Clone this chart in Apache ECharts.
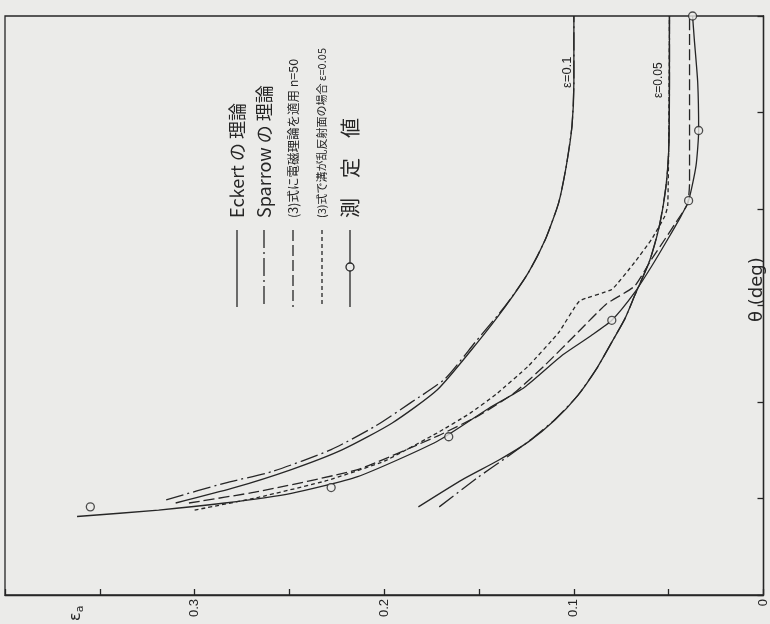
<!DOCTYPE html>
<html>
<head>
<meta charset="utf-8">
<script src="https://cdn.jsdelivr.net/npm/echarts@6/dist/echarts.min.js"></script>
<style>
html,body{margin:0;padding:0;background:#ebebe9;}
#chart{width:770px;height:624px;}
</style>
</head>
<body>
<div id="chart"></div>
<script>
// ---- data: pairs are [epsilon_a, theta(deg)] ----
const epsTickLabels = [0, 0.1, 0.2, 0.3];
const thetaTicks = [0, 15, 30, 45, 60, 75, 90];
const legendLabels = [
  'Eckert の 理論',
  'Sparrow の 理論',
  '(3)式に電磁理論を適用 n=50',
  '(3)式で溝が乱反射面の場合 ε=0.05',
  '測　定　値'
];
const curveLabels = ['ε=0.1', 'ε=0.05'];

const eckert01 = [[0.310,14.3],[0.280,16.6],[0.249,19.5],[0.222,22.6],[0.196,26.7],[0.172,31.9],[0.151,39.2],[0.136,44.9],[0.124,50.1],[0.115,55.3],[0.108,61.0],[0.104,66.7],[0.101,72.9],[0.100,79.7],[0.100,90]];
const sparrow01 = [[0.315,14.8],[0.284,17.4],[0.259,19.2],[0.228,22.6],[0.205,26.2],[0.186,29.9],[0.168,33.6],[0.152,39.3],[0.136,45.0],[0.124,50.1],[0.115,55.3],[0.108,61.0],[0.104,66.7],[0.101,72.9],[0.100,79.7],[0.100,90]];
const eckert005 = [[0.182,13.7],[0.159,17.9],[0.140,20.9],[0.124,23.8],[0.110,27.2],[0.098,31.0],[0.088,35.2],[0.080,39.3],[0.073,43.0],[0.068,46.5],[0.060,52.0],[0.0549,57.4],[0.0514,63.6],[0.0500,69.0],[0.0496,80.0],[0.0496,90]];
const sparrow005 = [[0.171,13.7],[0.151,18.2],[0.135,21.5],[0.122,24.3],[0.110,27.3],[0.098,31.0],[0.088,35.2],[0.080,39.3],[0.073,43.0],[0.068,46.5],[0.060,52.0],[0.0549,57.4],[0.0514,63.6],[0.0500,69.0],[0.0496,80.0],[0.0496,90]];
const emTheoryN50 = [[0.303,14.3],[0.266,16.1],[0.214,19.5],[0.172,24.7],[0.150,27.9],[0.131,31.5],[0.115,35.8],[0.098,40.8],[0.083,45.2],[0.068,48.0],[0.059,52.2],[0.052,55.3],[0.046,58.0],[0.040,60.8],[0.039,64.0],[0.039,90]];
const diffuseGroove = [[0.300,13.2],[0.266,15.2],[0.230,17.8],[0.200,20.8],[0.172,25.2],[0.155,28.2],[0.141,31.2],[0.124,35.6],[0.108,40.8],[0.097,45.7],[0.080,47.5],[0.068,51.7],[0.059,55.3],[0.052,58.9],[0.0505,60.5],[0.0500,70.0],[0.0498,80.0],[0.0496,90]];
const measuredCurve = [[0.362,12.2],[0.319,13.2],[0.284,14.3],[0.249,15.8],[0.214,18.4],[0.172,23.9],[0.145,29.0],[0.126,32.3],[0.106,37.3],[0.091,40.3],[0.080,42.7],[0.068,47.0],[0.059,51.1],[0.0505,55.3],[0.0435,58.9],[0.0395,61.3],[0.0356,66.7],[0.0342,72.2],[0.0347,79.7],[0.0365,86.4],[0.0374,90]];
const measuredPoints = [[0.355,13.7],[0.228,16.7],[0.166,24.6],[0.080,42.7],[0.0395,61.3],[0.0342,72.2],[0.0374,90]];

// ---- styles ----
const INK = '#262626';
const BG = '#ebebe9';
const LW = 1.3;
const dashDot = [18, 4, 2, 4];
const longDash = [11, 4];
const shortDash = [4, 3];

function lineSeries(name, data, dash, smooth) {
  return {
    name: name, type: 'line', data: data, showSymbol: false, symbol: 'none',
    smooth: smooth, clip: false, silent: true,
    lineStyle: { color: INK, width: LW, type: dash || 'solid' }
  };
}

const chart = echarts.init(document.getElementById('chart'), null, { renderer: 'canvas' });

const legendX = [237, 264, 293, 322, 350];
const legendDash = [null, dashDot, longDash, shortDash, null];
const legendFont = ['18px', '18px', '12.5px', '11px', '20px'];
const graphics = [];
legendLabels.forEach(function (lab, i) {
  const ls = { stroke: INK, lineWidth: LW };
  if (legendDash[i]) ls.lineDash = legendDash[i];
  graphics.push({ type: 'line', shape: { x1: legendX[i], y1: 230, x2: legendX[i], y2: 307 }, style: ls, silent: true });
  graphics.push({
    type: 'text', x: legendX[i], y: 218, rotation: Math.PI / 2, silent: true,
    style: { text: lab, font: legendFont[i] + ' "Noto Sans CJK JP", sans-serif', fill: INK,
      textAlign: 'left', textVerticalAlign: 'middle', verticalAlign: 'middle' }
  });
});
graphics.push({ type: 'circle', shape: { cx: legendX[4], cy: 267, r: 4 }, style: { fill: BG, stroke: INK, lineWidth: LW }, silent: true });
graphics.push({ type: 'text', x: 567, y: 88, rotation: Math.PI / 2, silent: true,
  style: { text: curveLabels[0], font: '13px "Liberation Sans", sans-serif', fill: INK, textAlign: 'left', textVerticalAlign: 'middle', verticalAlign: 'middle' } });
graphics.push({ type: 'text', x: 659, y: 98, rotation: Math.PI / 2, silent: true,
  style: { text: curveLabels[1], font: '12px "Liberation Sans", sans-serif', fill: INK, textAlign: 'left', textVerticalAlign: 'middle', verticalAlign: 'middle' } });
graphics.push({ type: 'text', x: 757, y: 322, rotation: Math.PI / 2, silent: true,
  style: { text: 'θ (deg)', font: '18px "DejaVu Sans", sans-serif', fill: INK, textAlign: 'left', textVerticalAlign: 'middle', verticalAlign: 'middle' } });
graphics.push({ type: 'text', x: 76, y: 621, rotation: Math.PI / 2, silent: true,
  style: { text: '{e|ε}{s|a}', rich: { e: { font: '16px "DejaVu Sans", sans-serif', fill: INK }, s: { font: '11px "DejaVu Sans", sans-serif', fill: INK, padding: [8, 0, 0, 0] } },
    fill: INK, textAlign: 'left', textVerticalAlign: 'middle', verticalAlign: 'middle' } });

chart.setOption({
  animation: false,
  backgroundColor: BG,
  grid: { left: 5, right: 5, top: 16, bottom: 29, show: true, borderColor: INK, borderWidth: LW, backgroundColor: 'transparent' },
  xAxis: {
    type: 'value', min: 0, max: 0.4, interval: 0.05, inverse: true, position: 'bottom',
    axisLine: { show: true, lineStyle: { color: INK, width: LW } },
    axisTick: { show: true, inside: true, length: 6, lineStyle: { color: INK, width: LW } },
    splitLine: { show: false },
    axisLabel: {
      show: true, rotate: 90, margin: 4, color: INK, fontSize: 13, fontFamily: '"Liberation Sans", sans-serif',
      formatter: function (v) {
        for (let k = 0; k < epsTickLabels.length; k++) {
          if (Math.abs(v - epsTickLabels[k]) < 1e-9) return String(epsTickLabels[k]);
        }
        return '';
      }
    }
  },
  yAxis: {
    type: 'value', min: thetaTicks[0], max: thetaTicks[thetaTicks.length - 1], interval: 15, position: 'right',
    axisLine: { show: true, lineStyle: { color: INK, width: LW } },
    axisTick: { show: true, inside: true, length: 6, lineStyle: { color: INK, width: LW } },
    splitLine: { show: false },
    axisLabel: { show: false }
  },
  graphic: graphics,
  series: [
    lineSeries('Eckert ε=0.1', eckert01, null, 0.2),
    lineSeries('Sparrow ε=0.1', sparrow01, dashDot, 0.2),
    lineSeries('Eckert ε=0.05', eckert005, null, 0.2),
    lineSeries('Sparrow ε=0.05', sparrow005, dashDot, 0.2),
    lineSeries('電磁理論 n=50', emTheoryN50, longDash, 0.15),
    lineSeries('乱反射面 ε=0.05', diffuseGroove, shortDash, 0.12),
    lineSeries('測定値 curve', measuredCurve, null, 0.2),
    {
      name: '測定値', type: 'scatter', data: measuredPoints, symbol: 'circle', symbolSize: 8, clip: false, silent: true, z: 5,
      itemStyle: { color: BG, borderColor: INK, borderWidth: LW }
    }
  ]
});
</script>
</body>
</html>
